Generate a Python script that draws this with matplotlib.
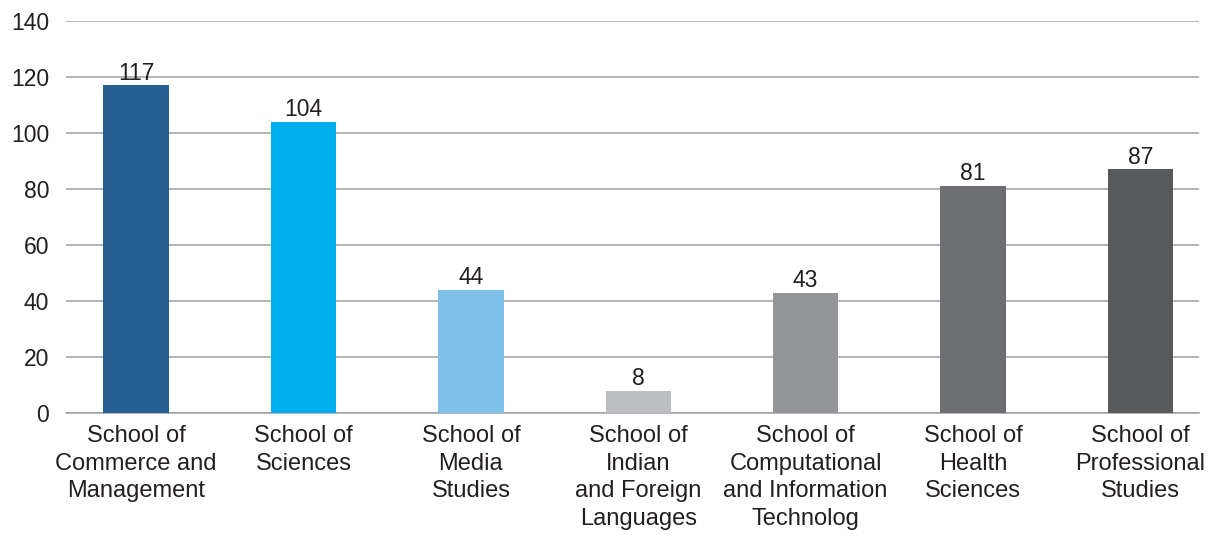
import matplotlib
matplotlib.use('Agg')
import matplotlib.pyplot as plt

schools = ['School of\nCommerce and\nManagement', 'School of\nSciences', 'School of\nMedia\nStudies',
           'School of\nIndian\nand Foreign\nLanguages', 'School of\nComputational\nand Information\nTechnolog',
           'School of\nHealth\nSciences', 'School of\nProfessional\nStudies']
counts = [117, 104, 44, 8, 43, 81, 87]
colors = ['#246092', '#00AEEF', '#7DC0EA', '#BCBDC0', '#939598', '#6D6E71', '#58595B']

plt.rcParams['font.family'] = ['Liberation Sans', 'DejaVu Sans']
txt = '#231f20'

fig = plt.figure(figsize=(12.19, 5.4), dpi=100)
ax = fig.add_axes([0.054, 0.2352, 0.9296, 0.7259])

x = list(range(len(counts)))
bars = ax.bar(x, counts, width=0.39, color=colors, zorder=3)
for b, v in zip(bars, counts):
    ax.text(b.get_x() + b.get_width() / 2, v + 0.3, str(v), ha='center', va='bottom',
            fontsize=16.5, color=txt)

ax.set_ylim(0, 140)
ax.set_xlim(-0.42, 6.35)
ax.set_yticks(range(0, 141, 20))
ax.yaxis.grid(True, color='#a0a0a0', lw=1.1, zorder=0)
ax.set_xticks(x)
ax.set_xticklabels(schools, fontsize=17, color=txt, linespacing=1.32)
ax.tick_params(axis='y', labelsize=16.5, labelcolor=txt, length=0, pad=12)
ax.tick_params(axis='x', length=0, pad=9)
for s in ['top', 'right', 'left']:
    ax.spines[s].set_visible(False)
ax.spines['bottom'].set_color('#a0a0a0')
ax.spines['bottom'].set_linewidth(1.1)

fig.savefig('out.png', dpi=100)
